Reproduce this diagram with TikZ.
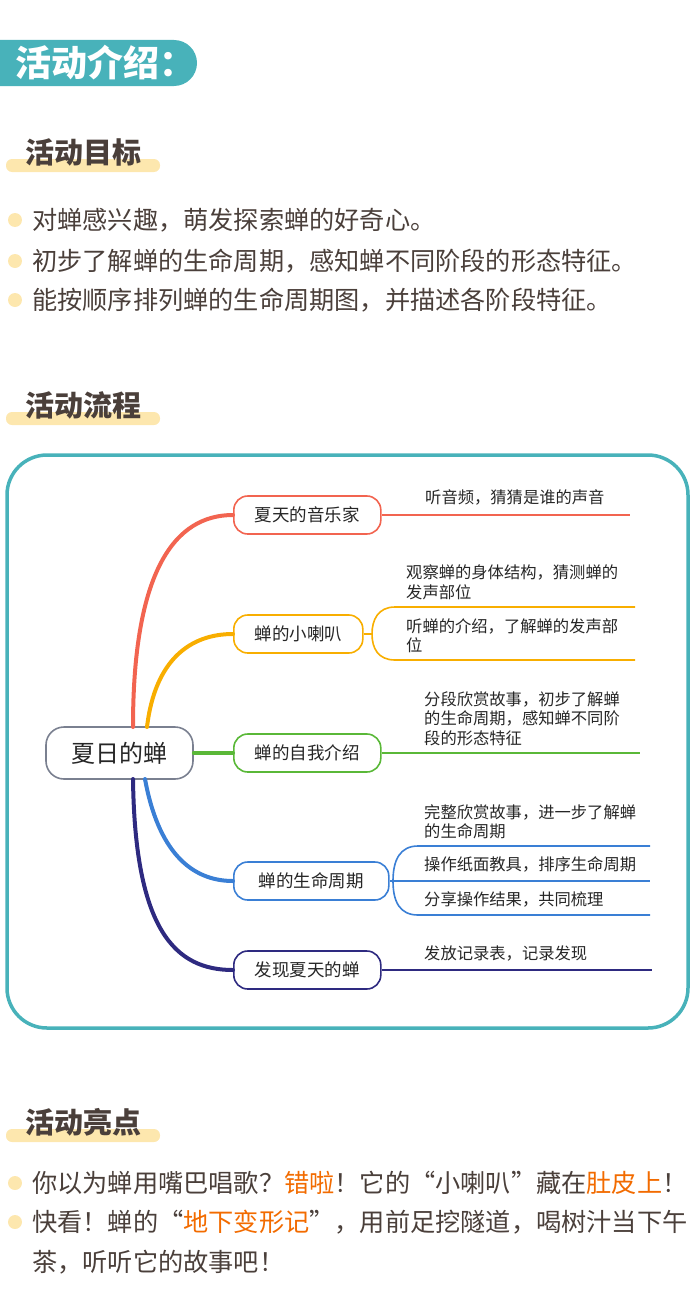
\documentclass[tikz,border=0pt]{standalone}
\usepackage{fontspec}
\setmainfont{Noto Sans CJK SC}
\usetikzlibrary{calc}
\definecolor{teal}{HTML}{48B2BA}
\definecolor{ink}{HTML}{4A3F3A}
\definecolor{barY}{HTML}{FDE7AE}
\definecolor{hl}{HTML}{F26B00}
\definecolor{cR}{HTML}{F26450}
\definecolor{cO}{HTML}{F8AE00}
\definecolor{cG}{HTML}{5AB838}
\definecolor{cB}{HTML}{3A7FD5}
\definecolor{cN}{HTML}{2E2A80}
\definecolor{gr}{HTML}{7A8090}
\newcommand{\fs}[1]{\fontsize{#1}{#1}\selectfont}
\tikzset{
 sect/.style={anchor=west,text=ink,font=\fs{29}\bfseries,inner sep=0},
 bul/.style={anchor=west,text=ink,font=\fs{25.2},inner sep=0},
 dot/.style={circle,fill=barY,minimum size=14pt,inner sep=0},
 br/.style={draw=#1,line width=1.6pt,rounded corners=14pt,minimum height=38pt,font=\fs{17.5},text=black!85,anchor=west,inner xsep=8pt},
 sub/.style={anchor=north west,font=\fontsize{16.3}{19.5}\selectfont,text=black!85,inner sep=0,align=left},
 link/.style={draw=#1,line width=4pt,line cap=round},
 thin/.style={draw=#1,line width=1.6pt},
}
\begin{document}
\begin{tikzpicture}[x=1pt,y=-1pt]
\useasboundingbox (0,0) rectangle (700,1314);
% header
\begin{scope}
\clip (0,0) rectangle (700,1314);
\fill[teal,rounded corners=23pt] (-30,40) rectangle (197,86);
\end{scope}
\node[anchor=west,text=white,font=\fs{36}\bfseries,inner sep=0] (h) at (15,63) {活动介绍：};
% sections
\foreach \y/\t/\n in {152/活动目标/s1,405/活动流程/s2,1122/活动亮点/s3}{
 \fill[barY,rounded corners=6pt] (6,\y+7) rectangle (160,\y+20);
 \node[sect] (\n) at (25,\y) {\t};
}
\foreach \y/\t/\n in {220/对蝉感兴趣，萌发探索蝉的好奇心。/b1,261/初步了解蝉的生命周期，感知蝉不同阶段的形态特征。/b2,300/能按顺序排列蝉的生命周期图，并描述各阶段特征。/b3}{
 \node[dot] at (15,\y) {};
 \node[bul] (\n) at (32,\y) {\t};
}
% frame
\draw[teal,line width=3.5pt,rounded corners=40pt] (7,455) rectangle (688,1028);
% central
\node[draw=gr,line width=1.6pt,rounded corners=18pt,minimum width=147pt,minimum height=52pt,font=\fs{24},text=black!85] (c) at (119.5,753) {夏日的蝉};
% branches
\node[br=cR,minimum width=147pt] (n1) at (233,515) {夏天的音乐家};
\node[br=cO,minimum width=129pt] (n2) at (233,634) {蝉的小喇叭};
\node[br=cG,minimum width=147pt] (n3) at (233,753) {蝉的自我介绍};
\node[br=cB,minimum width=155pt] (n4) at (233,881) {蝉的生命周期};
\node[br=cN,minimum width=147pt] (n5) at (233,970) {发现夏天的蝉};
\coordinate (cr) at (133,727); \coordinate (co) at (147,727);
\coordinate (cb) at (145,779); \coordinate (cn) at (133,779);
\draw[link=cR] (cr) .. controls (133,570) and (175,515) .. (n1.west);
\draw[link=cO] (co) .. controls (155,660) and (190,634) .. (n2.west);
\draw[link=cG] (c.east) -- (n3.west);
\draw[link=cB] (cb) .. controls (158,850) and (190,881) .. (n4.west);
\draw[link=cN] (cn) .. controls (135,930) and (175,970) .. (n5.west);
% leaves
\coordinate (e1) at (630,515);
\draw[thin=cR] (n1.east) -- (e1);
\node[sub] (t1) at (425,489) {听音频，猜猜是谁的声音};
% orange
\coordinate (o1) at (635,607); \coordinate (o2) at (635,660); \coordinate (ob) at (372,634);
\draw[thin=cO] (n2.east) -- (ob);
\draw[thin=cO] (o1) -- (395,607) .. controls (378,607) and (372,620) .. (ob) .. controls (372,648) and (378,660) .. (395,660) -- (o2);
\node[sub] (t2) at (406,565) {观察蝉的身体结构，猜测蝉的\\发声部位};
\node[sub] (t3) at (406,618) {听蝉的介绍，了解蝉的发声部\\位};
% green
\coordinate (g1) at (640,753);
\draw[thin=cG] (n3.east) -- (g1);
\node[sub] (t4) at (424,691) {分段欣赏故事，初步了解蝉\\的生命周期，感知蝉不同阶\\段的形态特征};
% blue
\coordinate (bb) at (393,881); \coordinate (q1) at (650,846); \coordinate (q2) at (650,881); \coordinate (q3) at (650,915);
\draw[thin=cB] (n4.east) -- (bb) -- (q2);
\draw[thin=cB] (q1) -- (418,846) .. controls (400,846) and (393,860) .. (bb) .. controls (393,902) and (400,915) .. (418,915) -- (q3);
\node[sub] (t5) at (424,804) {完整欣赏故事，进一步了解蝉\\的生命周期};
\node[sub] (t6) at (424,856) {操作纸面教具，排序生命周期};
\node[sub] (t7) at (424,891) {分享操作结果，共同梳理};
% navy
\coordinate (v1) at (652,970);
\draw[thin=cN] (n5.east) -- (v1);
\node[sub] (t8) at (424,946) {发放记录表，记录发现};
% highlights
\node[dot] at (15,1183) {};
\node[bul] (h1) at (32,1183) {你以为蝉用嘴巴唱歌？\textcolor{hl}{错啦}！它的“小喇叭”藏在\textcolor{hl}{肚皮上}！};
\node[dot] at (15,1222) {};
\node[bul] (h2) at (32,1222) {快看！蝉的“\textcolor{hl}{地下变形记}”，用前足挖隧道，喝树汁当下午};
\node[bul] (h3) at (32,1262) {茶，听听它的故事吧！};
\end{tikzpicture}
\end{document}
